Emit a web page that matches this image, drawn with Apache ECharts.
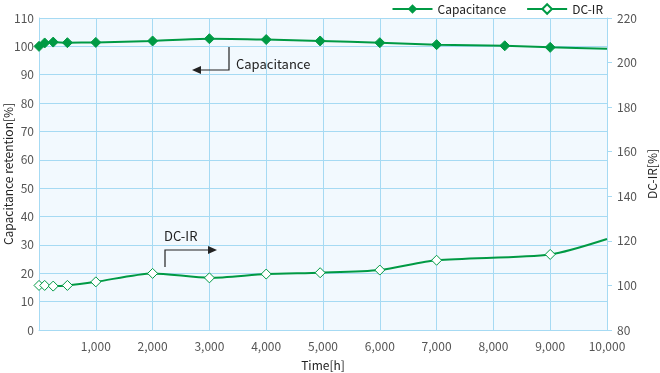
<!DOCTYPE html>
<html>
<head>
<meta charset="utf-8">
<script src="https://cdn.jsdelivr.net/npm/echarts@6/dist/echarts.min.js"></script>
<style>html,body{margin:0;padding:0;background:#fff;}#c{width:660px;height:373px;}</style>
</head>
<body>
<div id="c"></div>
<script>
// Data
var capHours = [0, 100, 250, 500, 1000, 2000, 3000, 4000, 4950, 6000, 7000, 8200, 9000, 10000];
var capValues = [100.0, 101.2, 101.5, 101.3, 101.4, 101.9, 102.7, 102.4, 101.9, 101.3, 100.6, 100.2, 99.65, 99.2];
var dcirHours = [0, 100, 250, 500, 1000, 2000, 3000, 4000, 4950, 6000, 7000, 9000, 10000];
var dcirValues = [100.0, 100.0, 99.7, 100.0, 101.6, 105.4, 103.4, 105.1, 105.7, 106.9, 111.3, 113.9, 120.8];

var GREEN = '#009a44';
var FONT = '"Noto Sans CJK JP", "Noto Sans", sans-serif';
var GRIDC = '#a6daf3';

function toData(hs, vs) {
  return hs.map(function (h, i) {
    var d = { value: [h, vs[i]] };
    if (i === hs.length - 1) d.symbol = 'none';
    return d;
  });
}

var chart = echarts.init(document.getElementById('c'));
var option = {
  animation: false,
  textStyle: { fontFamily: FONT },
  legend: {
    top: -2, right: 52,
    itemWidth: 40, itemHeight: 12, itemGap: 20,
    textStyle: { fontFamily: FONT, fontSize: 12, color: '#222' },
    data: ['Capacitance', 'DC-IR']
  },
  grid: { left: 39, right: 53, top: 18, bottom: 43, show: true, backgroundColor: '#f2f9fe', borderWidth: 0, containLabel: false, outerBoundsMode: 'none' },
  xAxis: {
    type: 'value', min: 0, max: 10000, interval: 1000,
    name: 'Time[h]', nameLocation: 'middle', nameGap: 29, nameMoveOverlap: false,
    nameTextStyle: { fontFamily: FONT, fontSize: 12, color: '#222' },
    axisLine: { show: true, lineStyle: { color: GRIDC } },
    axisTick: { show: false },
    axisLabel: { color: '#555', fontSize: 12, margin: 10, fontFamily: FONT,
      formatter: function (v) { return v === 0 ? '' : v.toLocaleString('en-US'); } },
    splitLine: { show: true, lineStyle: { color: GRIDC, width: 1 } }
  },
  yAxis: [
    {
      type: 'value', min: 0, max: 110, interval: 10,
      name: 'Capacitance retention[%]', nameLocation: 'middle', nameGap: 25, nameMoveOverlap: false,
      nameTextStyle: { fontFamily: FONT, fontSize: 12, color: '#222' },
      axisLine: { show: true, lineStyle: { color: GRIDC } },
      axisTick: { show: false },
      axisLabel: { color: '#555', fontSize: 12, margin: 5, fontFamily: FONT },
      splitLine: { show: true, lineStyle: { color: GRIDC, width: 1 } }
    },
    {
      type: 'value', min: 80, max: 220, interval: 20, position: 'right',
      name: 'DC-IR[%]', nameLocation: 'middle', nameGap: 39, nameMoveOverlap: false,
      nameTextStyle: { fontFamily: FONT, fontSize: 12, color: '#222' },
      axisLine: { show: true, lineStyle: { color: GRIDC } },
      axisTick: { show: true, length: 5, lineStyle: { color: GRIDC } },
      axisLabel: { color: '#555', fontSize: 12, margin: 10, fontFamily: FONT },
      splitLine: { show: false }
    }
  ],
  series: [
    {
      name: 'Capacitance', type: 'line', yAxisIndex: 0, smooth: 0.25,
      symbol: 'diamond', symbolSize: 10,
      lineStyle: { color: GREEN, width: 2 },
      itemStyle: { color: GREEN, borderColor: GREEN },
      data: toData(capHours, capValues)
    },
    {
      name: 'DC-IR', type: 'line', yAxisIndex: 1, smooth: 0.25,
      symbol: 'diamond', symbolSize: 10,
      lineStyle: { color: GREEN, width: 2 },
      itemStyle: { color: '#fff', borderColor: GREEN, borderWidth: 1 },
      data: toData(dcirHours, dcirValues)
    }
  ]
};
chart.setOption(option);

// Annotation arrows
var ink = '#222';
chart.setOption({
  graphic: [
    { type: 'polyline', shape: { points: [[229, 47], [229, 70], [199, 70]] }, style: { stroke: ink, lineWidth: 1.2, fill: null } },
    { type: 'polygon', shape: { points: [[192, 70], [201, 66], [201, 74]] }, style: { fill: ink } },
    { type: 'text', left: 236, top: 58, style: { text: 'Capacitance', font: '13px ' + FONT, fill: ink } },
    { type: 'polyline', shape: { points: [[165, 267], [165, 250], [209, 250]] }, style: { stroke: ink, lineWidth: 1.2, fill: null } },
    { type: 'polygon', shape: { points: [[217, 250], [208, 246], [208, 254]] }, style: { fill: ink } },
    { type: 'text', left: 164, top: 230, style: { text: 'DC-IR', font: '13px ' + FONT, fill: ink } }
  ]
});
</script>
</body>
</html>
